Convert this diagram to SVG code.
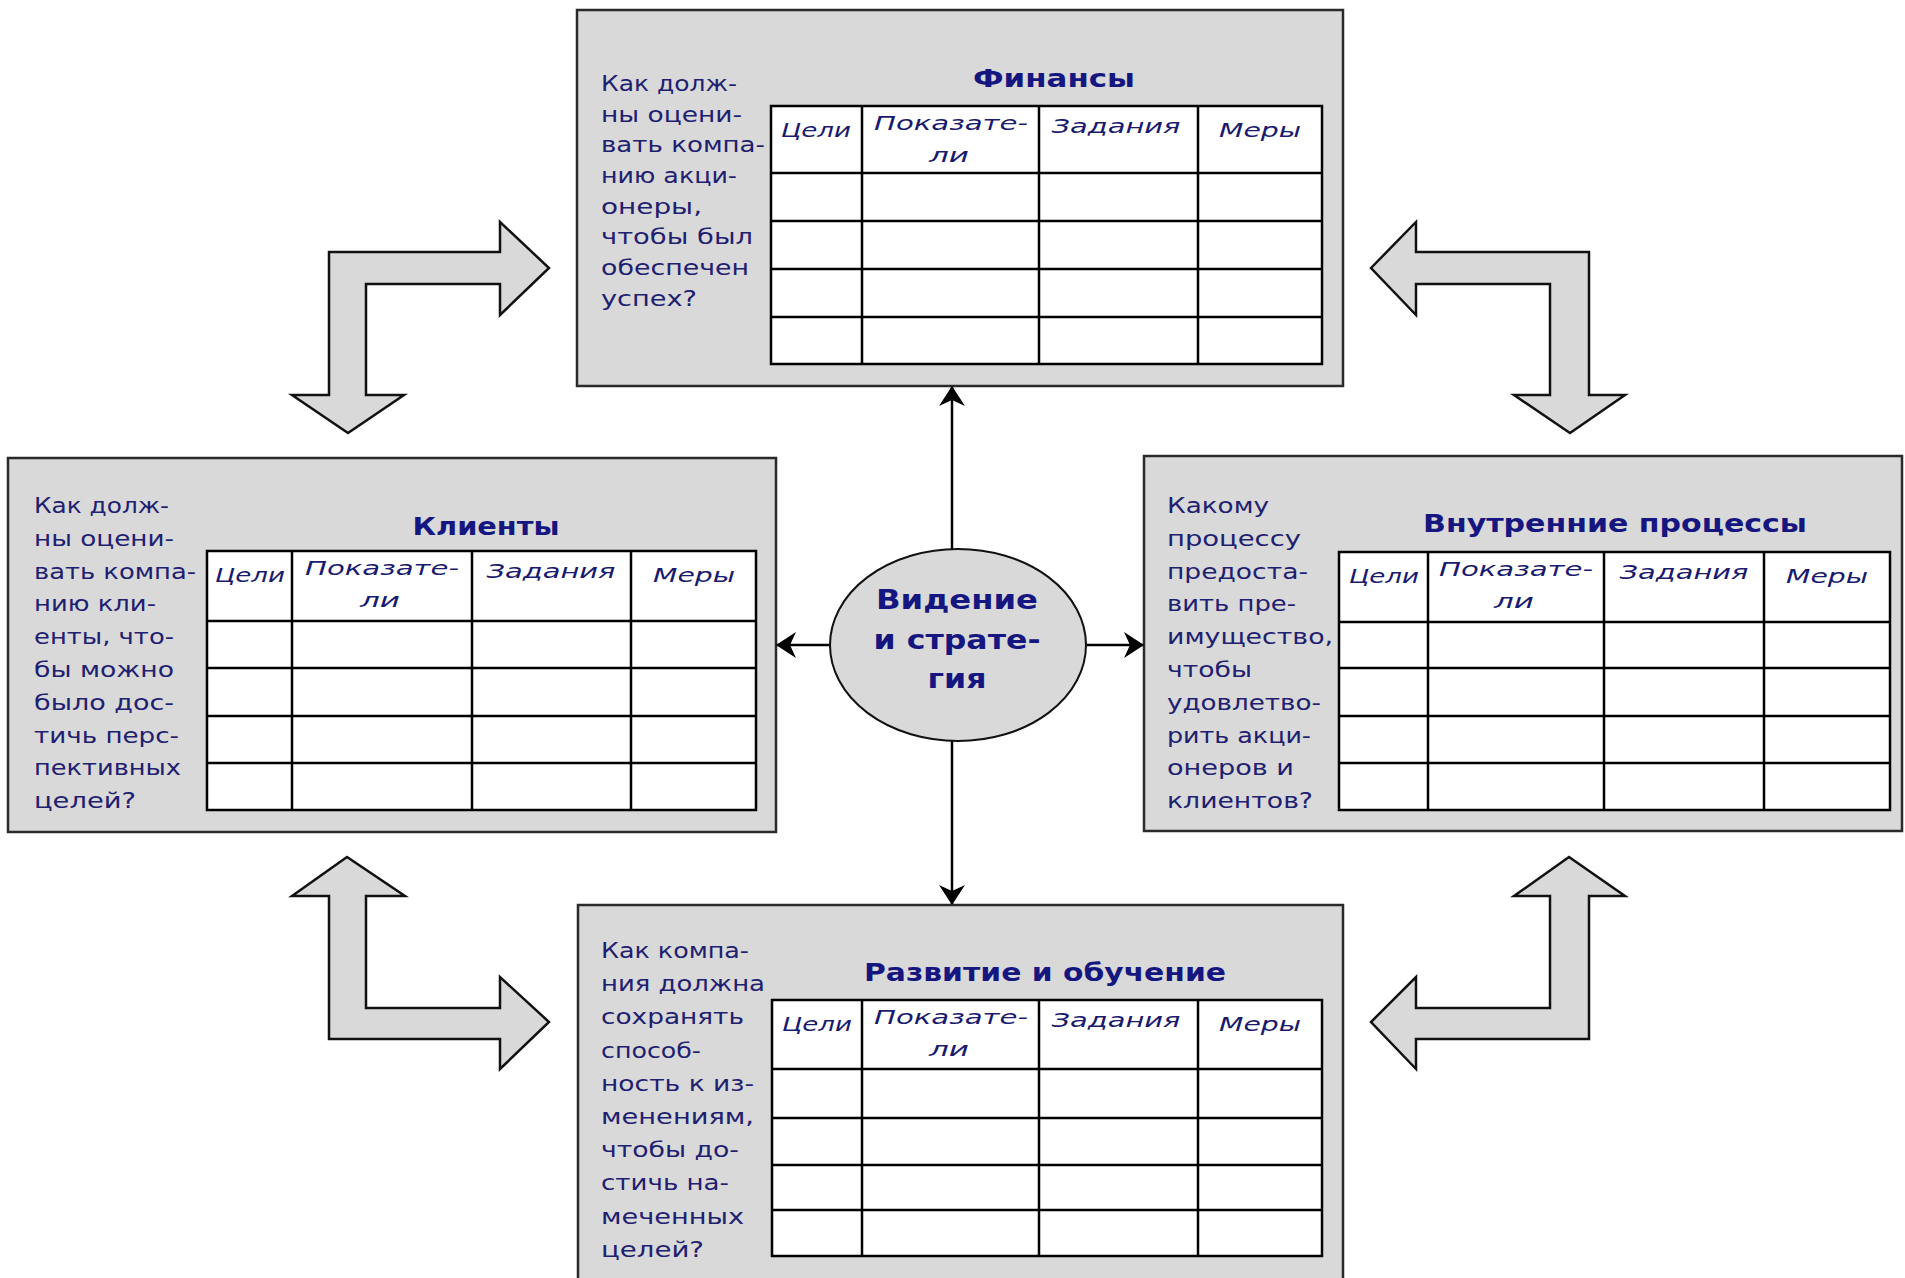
<svg xmlns="http://www.w3.org/2000/svg" width="1905" height="1278" viewBox="0 0 1905 1278">
<style>
.bg{fill:#ffffff}
.box{fill:#d9d9d9;stroke:#2a2a2a;stroke-width:2.5}
.cell{fill:#ffffff;stroke:#000;stroke-width:2.5}
.ln{stroke:#000;stroke-width:2.5}
.q{font-family:"DejaVu Sans","Liberation Sans",sans-serif;font-size:21px;fill:#1e2070}
.t{font-family:"DejaVu Sans","Liberation Sans",sans-serif;font-weight:bold;font-size:25px;fill:#151680;text-anchor:middle}
.h{font-family:"DejaVu Sans","Liberation Sans",sans-serif;font-style:italic;font-size:20px;fill:#1a1a6e;text-anchor:middle}
.blk{fill:#d9d9d9;stroke:#111;stroke-width:2.5;stroke-linejoin:miter}
.con{stroke:#000;stroke-width:2.5;fill:none}
.ell{fill:#d9d9d9;stroke:#111;stroke-width:2}
.v{font-family:"DejaVu Sans","Liberation Sans",sans-serif;font-weight:bold;font-size:27px;fill:#151680;text-anchor:middle}
</style>
<defs>
<marker id="ah" viewBox="0 0 20 26" refX="19" refY="13" markerWidth="20" markerHeight="26" markerUnits="userSpaceOnUse" orient="auto">
<path d="M20,13 L0,0 L6,13 L0,26 Z" fill="#000"/>
</marker>
</defs>
<rect class="bg" x="0" y="0" width="1905" height="1278"/>

<g id="block-arrows">
<polygon id="arrow-tl" class="blk" points="348,433 292,395 329,395 329,252 500,252 500,222 549,268 500,315 500,284 366,284 366,395 404,395"/>
<polygon id="arrow-tr" class="blk" points="1371,268 1416,222 1416,252 1589,252 1589,395 1625,395 1570,433 1514,395 1550,395 1550,284 1416,284 1416,315"/>
<polygon id="arrow-bl" class="blk" points="347,857 405,896 366,896 366,1008 500,1008 500,977 549,1022 500,1069 500,1039 329,1039 329,896 292,896"/>
<polygon id="arrow-br" class="blk" points="1569,857 1625,896 1589,896 1589,1039 1416,1039 1416,1069 1371,1022 1416,977 1416,1008 1550,1008 1550,896 1514,896"/>
</g>

<g id="finance">
<rect class="box" x="577" y="10" width="766" height="376"/>
<text class="t" x="1054" y="87" textLength="162" lengthAdjust="spacingAndGlyphs">Финансы</text>
<rect class="cell" x="771" y="106" width="551" height="258"/>
<line class="ln" x1="862" y1="106" x2="862" y2="364"/>
<line class="ln" x1="1039" y1="106" x2="1039" y2="364"/>
<line class="ln" x1="1198" y1="106" x2="1198" y2="364"/>
<line class="ln" x1="771" y1="173" x2="1322" y2="173"/>
<line class="ln" x1="771" y1="221" x2="1322" y2="221"/>
<line class="ln" x1="771" y1="269" x2="1322" y2="269"/>
<line class="ln" x1="771" y1="317" x2="1322" y2="317"/>
<text class="h" x="816" y="137" textLength="70" lengthAdjust="spacingAndGlyphs">Цели</text>
<text class="h" x="951" y="130" textLength="154" lengthAdjust="spacingAndGlyphs">Показате-</text>
<text class="h" x="949" y="162" textLength="40" lengthAdjust="spacingAndGlyphs">ли</text>
<text class="h" x="1116" y="133" textLength="129" lengthAdjust="spacingAndGlyphs">Задания</text>
<text class="h" x="1260" y="137" textLength="82" lengthAdjust="spacingAndGlyphs">Меры</text>
<text class="q" x="601" y="91" textLength="136" lengthAdjust="spacingAndGlyphs">Как долж-</text>
<text class="q" x="601" y="122" textLength="141" lengthAdjust="spacingAndGlyphs">ны оцени-</text>
<text class="q" x="601" y="152" textLength="164" lengthAdjust="spacingAndGlyphs">вать компа-</text>
<text class="q" x="601" y="183" textLength="136" lengthAdjust="spacingAndGlyphs">нию акци-</text>
<text class="q" x="601" y="214" textLength="101" lengthAdjust="spacingAndGlyphs">онеры,</text>
<text class="q" x="601" y="244" textLength="152" lengthAdjust="spacingAndGlyphs">чтобы был</text>
<text class="q" x="601" y="275" textLength="148" lengthAdjust="spacingAndGlyphs">обеспечен</text>
<text class="q" x="601" y="306" textLength="96" lengthAdjust="spacingAndGlyphs">успех?</text>
</g>

<g id="clients">
<rect class="box" x="8" y="458" width="768" height="374"/>
<text class="t" x="486" y="535" textLength="147" lengthAdjust="spacingAndGlyphs">Клиенты</text>
<rect class="cell" x="207" y="551" width="549" height="259"/>
<line class="ln" x1="292" y1="551" x2="292" y2="810"/>
<line class="ln" x1="472" y1="551" x2="472" y2="810"/>
<line class="ln" x1="631" y1="551" x2="631" y2="810"/>
<line class="ln" x1="207" y1="621" x2="756" y2="621"/>
<line class="ln" x1="207" y1="668" x2="756" y2="668"/>
<line class="ln" x1="207" y1="716" x2="756" y2="716"/>
<line class="ln" x1="207" y1="763" x2="756" y2="763"/>
<text class="h" x="250" y="582" textLength="70" lengthAdjust="spacingAndGlyphs">Цели</text>
<text class="h" x="382" y="575" textLength="154" lengthAdjust="spacingAndGlyphs">Показате-</text>
<text class="h" x="380" y="607" textLength="40" lengthAdjust="spacingAndGlyphs">ли</text>
<text class="h" x="551" y="578" textLength="129" lengthAdjust="spacingAndGlyphs">Задания</text>
<text class="h" x="694" y="582" textLength="82" lengthAdjust="spacingAndGlyphs">Меры</text>
<text class="q" x="34" y="513" textLength="135" lengthAdjust="spacingAndGlyphs">Как долж-</text>
<text class="q" x="34" y="546" textLength="140" lengthAdjust="spacingAndGlyphs">ны оцени-</text>
<text class="q" x="34" y="579" textLength="162" lengthAdjust="spacingAndGlyphs">вать компа-</text>
<text class="q" x="34" y="611" textLength="122" lengthAdjust="spacingAndGlyphs">нию кли-</text>
<text class="q" x="34" y="644" textLength="140" lengthAdjust="spacingAndGlyphs">енты, что-</text>
<text class="q" x="34" y="677" textLength="140" lengthAdjust="spacingAndGlyphs">бы можно</text>
<text class="q" x="34" y="710" textLength="140" lengthAdjust="spacingAndGlyphs">было дос-</text>
<text class="q" x="34" y="743" textLength="145" lengthAdjust="spacingAndGlyphs">тичь перс-</text>
<text class="q" x="34" y="775" textLength="147" lengthAdjust="spacingAndGlyphs">пективных</text>
<text class="q" x="34" y="808" textLength="102" lengthAdjust="spacingAndGlyphs">целей?</text>
</g>

<g id="processes">
<rect class="box" x="1144" y="456" width="758" height="375"/>
<text class="t" x="1615" y="532" textLength="384" lengthAdjust="spacingAndGlyphs">Внутренние процессы</text>
<rect class="cell" x="1339" y="552" width="551" height="258"/>
<line class="ln" x1="1428" y1="552" x2="1428" y2="810"/>
<line class="ln" x1="1604" y1="552" x2="1604" y2="810"/>
<line class="ln" x1="1764" y1="552" x2="1764" y2="810"/>
<line class="ln" x1="1339" y1="622" x2="1890" y2="622"/>
<line class="ln" x1="1339" y1="668" x2="1890" y2="668"/>
<line class="ln" x1="1339" y1="716" x2="1890" y2="716"/>
<line class="ln" x1="1339" y1="763" x2="1890" y2="763"/>
<text class="h" x="1384" y="583" textLength="70" lengthAdjust="spacingAndGlyphs">Цели</text>
<text class="h" x="1516" y="576" textLength="154" lengthAdjust="spacingAndGlyphs">Показате-</text>
<text class="h" x="1514" y="608" textLength="40" lengthAdjust="spacingAndGlyphs">ли</text>
<text class="h" x="1684" y="579" textLength="129" lengthAdjust="spacingAndGlyphs">Задания</text>
<text class="h" x="1827" y="583" textLength="82" lengthAdjust="spacingAndGlyphs">Меры</text>
<text class="q" x="1167" y="513" textLength="102" lengthAdjust="spacingAndGlyphs">Какому</text>
<text class="q" x="1167" y="546" textLength="134" lengthAdjust="spacingAndGlyphs">процессу</text>
<text class="q" x="1167" y="579" textLength="141" lengthAdjust="spacingAndGlyphs">предоста-</text>
<text class="q" x="1167" y="611" textLength="129" lengthAdjust="spacingAndGlyphs">вить пре-</text>
<text class="q" x="1167" y="644" textLength="166" lengthAdjust="spacingAndGlyphs">имущество,</text>
<text class="q" x="1167" y="677" textLength="85" lengthAdjust="spacingAndGlyphs">чтобы</text>
<text class="q" x="1167" y="710" textLength="154" lengthAdjust="spacingAndGlyphs">удовлетво-</text>
<text class="q" x="1167" y="743" textLength="144" lengthAdjust="spacingAndGlyphs">рить акци-</text>
<text class="q" x="1167" y="775" textLength="127" lengthAdjust="spacingAndGlyphs">онеров и</text>
<text class="q" x="1167" y="808" textLength="146" lengthAdjust="spacingAndGlyphs">клиентов?</text>
</g>

<g id="learning">
<rect class="box" x="578" y="905" width="765" height="390"/>
<text class="t" x="1045" y="981" textLength="362" lengthAdjust="spacingAndGlyphs">Развитие и обучение</text>
<rect class="cell" x="772" y="1000" width="550" height="256"/>
<line class="ln" x1="862" y1="1000" x2="862" y2="1256"/>
<line class="ln" x1="1039" y1="1000" x2="1039" y2="1256"/>
<line class="ln" x1="1198" y1="1000" x2="1198" y2="1256"/>
<line class="ln" x1="772" y1="1069" x2="1322" y2="1069"/>
<line class="ln" x1="772" y1="1118" x2="1322" y2="1118"/>
<line class="ln" x1="772" y1="1165" x2="1322" y2="1165"/>
<line class="ln" x1="772" y1="1210" x2="1322" y2="1210"/>
<text class="h" x="817" y="1031" textLength="70" lengthAdjust="spacingAndGlyphs">Цели</text>
<text class="h" x="951" y="1024" textLength="154" lengthAdjust="spacingAndGlyphs">Показате-</text>
<text class="h" x="949" y="1056" textLength="40" lengthAdjust="spacingAndGlyphs">ли</text>
<text class="h" x="1116" y="1027" textLength="129" lengthAdjust="spacingAndGlyphs">Задания</text>
<text class="h" x="1260" y="1031" textLength="82" lengthAdjust="spacingAndGlyphs">Меры</text>
<text class="q" x="601" y="958" textLength="148" lengthAdjust="spacingAndGlyphs">Как компа-</text>
<text class="q" x="601" y="991" textLength="164" lengthAdjust="spacingAndGlyphs">ния должна</text>
<text class="q" x="601" y="1024" textLength="143" lengthAdjust="spacingAndGlyphs">сохранять</text>
<text class="q" x="601" y="1058" textLength="100" lengthAdjust="spacingAndGlyphs">способ-</text>
<text class="q" x="601" y="1091" textLength="153" lengthAdjust="spacingAndGlyphs">ность к из-</text>
<text class="q" x="601" y="1124" textLength="153" lengthAdjust="spacingAndGlyphs">менениям,</text>
<text class="q" x="601" y="1157" textLength="138" lengthAdjust="spacingAndGlyphs">чтобы до-</text>
<text class="q" x="601" y="1190" textLength="128" lengthAdjust="spacingAndGlyphs">стичь на-</text>
<text class="q" x="601" y="1224" textLength="143" lengthAdjust="spacingAndGlyphs">меченных</text>
<text class="q" x="601" y="1257" textLength="103" lengthAdjust="spacingAndGlyphs">целей?</text>
</g>

<g id="connectors">
<line class="con" x1="952" y1="550" x2="952" y2="387" marker-end="url(#ah)"/>
<line class="con" x1="952" y1="741" x2="952" y2="904" marker-end="url(#ah)"/>
<line class="con" x1="831" y1="645" x2="777" y2="645" marker-end="url(#ah)"/>
<line class="con" x1="1086" y1="645" x2="1143" y2="645" marker-end="url(#ah)"/>
</g>

<g id="vision">
<ellipse class="ell" cx="958" cy="645" rx="128" ry="96"/>
<text class="v" x="957" y="609" textLength="162" lengthAdjust="spacingAndGlyphs">Видение</text>
<text class="v" x="957" y="649" textLength="167" lengthAdjust="spacingAndGlyphs">и страте-</text>
<text class="v" x="957" y="688" textLength="59" lengthAdjust="spacingAndGlyphs">гия</text>
</g>
</svg>
